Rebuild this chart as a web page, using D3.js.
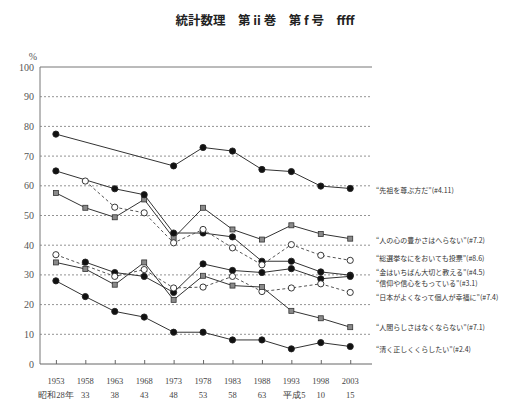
<!DOCTYPE html>
<html>
<head>
<meta charset="utf-8">
<script src="https://cdn.jsdelivr.net/npm/d3@7"></script>
<style>
  body { margin: 0; background: #fff; }
  svg { display: block; }
</style>
</head>
<body>
<svg id="chart" width="507" height="404"></svg>
<script>
// survey years and era labels
var years = [1953, 1958, 1963, 1968, 1973, 1978, 1983, 1988, 1993, 1998, 2003];
var eraLabels = ["昭和28年", "33", "38", "43", "48", "53", "58", "63", "平成5", "10", "15"];
var yTicks = [0, 10, 20, 30, 40, 50, 60, 70, 80, 90, 100];

// percent values per item (null = not asked that year)
var senzo  = [77.4, null, null, null, 66.7, 72.9, 71.7, 65.5, 64.8, 59.9, 59.1];
var kokoro = [57.6, 52.6, 49.4, 55.4, 42.4, 52.6, 45.3, 41.9, 46.7, 43.8, 42.2];
var kane   = [65.0, null, 59.0, 57.0, 44.1, 44.1, 42.8, 34.6, 34.6, 31.0, 29.9];
var senkyo = [null, 61.6, 52.8, 50.9, 40.8, 45.3, 39.1, 33.4, 40.2, 36.6, 34.9];
var shinko = [null, 34.3, 30.8, 29.5, 24.1, 33.7, 31.5, 30.8, 32.1, 28.7, 29.5];
var nihon  = [36.8, null, 29.5, 31.8, 25.6, 25.9, 29.5, 24.4, 25.6, 27.0, 24.1];
var ningen = [34.2, 32.0, 26.7, 34.2, 21.6, 29.7, 26.4, 25.9, 17.9, 15.4, 12.4];
var kiyoku = [28.0, 22.7, 17.7, 15.8, 10.7, 10.7, 8.1, 8.1, 5.1, 7.2, 5.9];

// right-hand labels, top to bottom
var labels = [
  "“先祖を尊ぶ方だ”(#4.11)",
  "“人の心の豊かさはへらない”(#7.2)",
  "“総選挙なにをおいても投票”(#8.6)",
  "“金はいちばん大切と教える”(#4.5)",
  "“信仰や信心をもっている”(#3.1)",
  "“日本がよくなって個人が幸福に”(#7.4)",
  "“人間らしさはなくならない”(#7.1)",
  "“清く正しくくらしたい”(#2.4)"
];
var labelY = [190, 240, 258, 272, 283, 297, 327, 349];

var series = [
  { values: senzo,  mark: "filled", dash: false },
  { values: kokoro, mark: "square", dash: false },
  { values: kane,   mark: "filled", dash: false },
  { values: senkyo, mark: "open",   dash: true },
  { values: shinko, mark: "filled", dash: false },
  { values: nihon,  mark: "open",   dash: true },
  { values: ningen, mark: "square", dash: false },
  { values: kiyoku, mark: "filled", dash: false }
];

var svg = d3.select("#chart");
var serif = "'Liberation Serif', 'DejaVu Serif', serif";
var jp = "'Noto Sans CJK JP', sans-serif";

var x = d3.scaleLinear().domain([1950.3, 2006.7]).range([40, 372]);
var y = d3.scaleLinear().domain([0, 100]).range([364, 67]);

// title
svg.append("text")
  .attr("x", 265).attr("y", 25)
  .attr("text-anchor", "middle")
  .attr("font-family", jp).attr("font-weight", "bold")
  .attr("font-size", 12.5).attr("fill", "#222")
  .text("統計数理　第 ii 巻　第 f 号　ffff");

// gridlines
svg.append("g").selectAll("line")
  .data(yTicks.slice(1, -1))
  .enter().append("line")
  .attr("x1", 40).attr("x2", 372)
  .attr("y1", function(d) { return y(d); })
  .attr("y2", function(d) { return y(d); })
  .attr("stroke", "#777").attr("stroke-width", 0.8)
  .attr("stroke-dasharray", "2,2");

// frame: top, left, bottom
svg.append("line").attr("x1", 40).attr("x2", 372).attr("y1", y(100)).attr("y2", y(100))
  .attr("stroke", "#777").attr("stroke-width", 1);
svg.append("line").attr("x1", 40).attr("x2", 40).attr("y1", y(100)).attr("y2", y(0))
  .attr("stroke", "#777").attr("stroke-width", 1);

var xAxis = d3.axisBottom(x).tickValues(years).tickSize(-4).tickFormat("");
var gx = svg.append("g").attr("transform", "translate(0," + y(0) + ")").call(xAxis);
gx.select(".domain").attr("d", "M40,0H372").attr("stroke", "#666");
gx.selectAll(".tick line").attr("stroke", "#666");

// y labels
svg.append("g").selectAll("text")
  .data(yTicks)
  .enter().append("text")
  .attr("x", 34)
  .attr("y", function(d) { return y(d) + 3.5; })
  .attr("text-anchor", "end")
  .attr("font-family", serif).attr("font-size", 10).attr("fill", "#555")
  .text(function(d) { return d; });
svg.append("text").attr("x", 33).attr("y", 60).attr("text-anchor", "middle")
  .attr("font-family", serif).attr("font-size", 10).attr("fill", "#555").text("%");

// x labels
svg.append("g").selectAll("text")
  .data(years)
  .enter().append("text")
  .attr("x", function(d) { return x(d); })
  .attr("y", 384)
  .attr("text-anchor", "middle")
  .attr("font-family", serif).attr("font-size", 8.5).attr("fill", "#444")
  .text(function(d) { return d; });
svg.append("g").selectAll("text")
  .data(eraLabels)
  .enter().append("text")
  .attr("x", function(d, i) { return x(years[i]) + (i == 8 ? 3 : 0); })
  .attr("y", 398)
  .attr("text-anchor", "middle")
  .attr("font-family", serif).attr("font-size", 8.5).attr("fill", "#444")
  .text(function(d) { return d; });

// lines
var line = d3.line()
  .x(function(d) { return x(d.year); })
  .y(function(d) { return y(d.v); });

series.forEach(function(s) {
  s.points = years.map(function(yr, i) { return { year: yr, v: s.values[i] }; })
    .filter(function(p) { return p.v != null; });
  svg.append("path")
    .datum(s.points)
    .attr("d", line)
    .attr("fill", "none")
    .attr("stroke", s.dash ? "#555" : "#333")
    .attr("stroke-width", 1)
    .attr("stroke-dasharray", s.dash ? "3,2.5" : null);
});

// markers
series.forEach(function(s) {
  var g = svg.append("g");
  if (s.mark == "square") {
    g.selectAll("rect").data(s.points).enter().append("rect")
      .attr("x", function(d) { return x(d.year) - 2.5; })
      .attr("y", function(d) { return y(d.v) - 2.5; })
      .attr("width", 5).attr("height", 5)
      .attr("fill", "#8a8a8a").attr("stroke", "#333").attr("stroke-width", 0.8);
  } else {
    g.selectAll("circle").data(s.points).enter().append("circle")
      .attr("cx", function(d) { return x(d.year); })
      .attr("cy", function(d) { return y(d.v); })
      .attr("r", 3.1)
      .attr("fill", s.mark == "filled" ? "#111" : "#fff")
      .attr("stroke", "#222").attr("stroke-width", 0.9);
  }
});

// right-hand labels
svg.append("g").selectAll("text")
  .data(labels)
  .enter().append("text")
  .attr("x", 376)
  .attr("y", function(d, i) { return labelY[i] + 3; })
  .attr("font-family", jp).attr("font-size", 7)
  .attr("fill", "#333")
  .text(function(d) { return d; });
</script>
</body>
</html>
